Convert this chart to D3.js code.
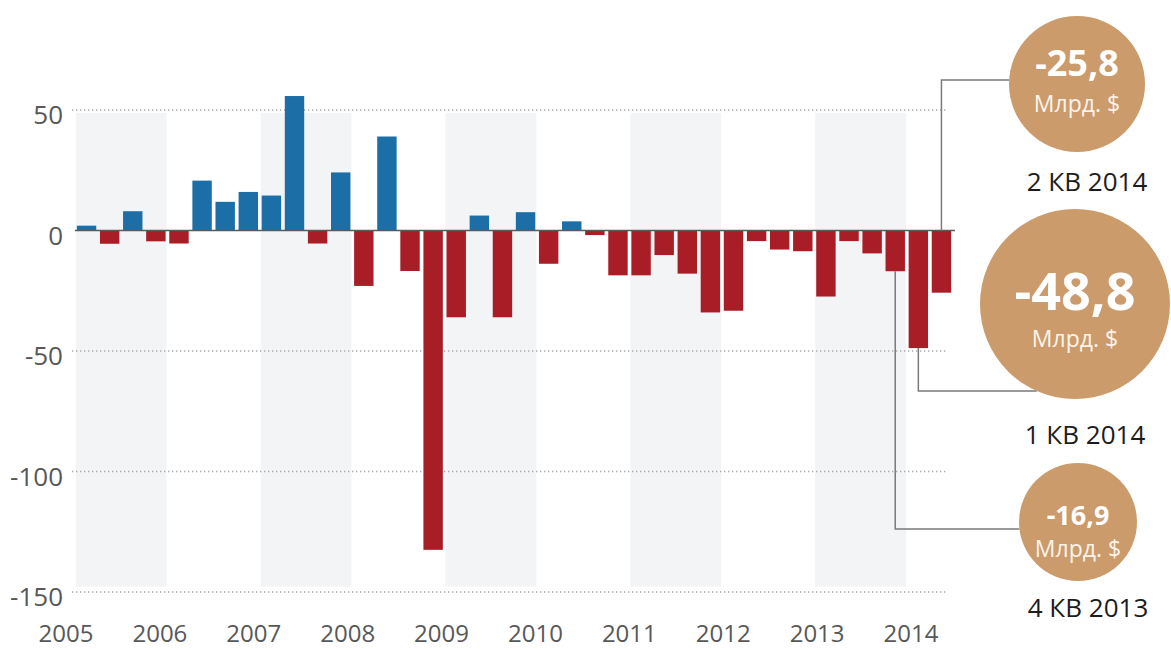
<!DOCTYPE html>
<html>

<head>
  <meta charset="utf-8">
  <title>Сальдо квартал</title>
  <script src="https://cdn.jsdelivr.net/npm/d3@7"></script>
  <style>
    body { margin: 0; background: #fff; }
    text { font-family: "Open Sans", sans-serif; }
  </style>
</head>

<body>
  <script>
    // Size
    const w = 1171;
    const h = 650;

    // Data: quarters 2005 Q1 .. 2014 Q2, billions $
    const years = [2005, 2006, 2007, 2008, 2009, 2010, 2011, 2012, 2013, 2014];
    const quarters = [];
    years.forEach(function (y) {
      [1, 2, 3, 4].forEach(function (q) {
        if (y < 2014 || q <= 2) quarters.push(y + "Q" + q);
      });
    });
    const values = [
      2, -5.5, 8, -4.5,
      -5.4, 20.7, 11.9, 16,
      14.5, 55.8, -5.4, 24.1,
      -23, 39, -16.8, -132.5,
      -36, 6.2, -36, 7.6,
      -13.8, 3.8, -1.9, -18.6,
      -18.6, -10.2, -17.9, -34,
      -33.3, -4.4, -7.9, -8.6,
      -27.4, -4.4, -9.5, -16.9,
      -48.8, -25.8
    ];
    const yTicks = [50, 0, -50, -100, -150];
    const shadedYears = [2005, 2007, 2009, 2011, 2013];

    // Callouts
    const calloutQuarters = ["2014Q2", "2014Q1", "2013Q4"];
    const calloutValues = ["-25,8", "-48,8", "-16,9"];
    const calloutLabels = ["2 КВ 2014", "1 КВ 2014", "4 КВ 2013"];

    const svg = d3.select("body").append("svg")
      .attr("width", w)
      .attr("height", h);

    const x = d3.scaleBand()
      .domain(quarters)
      .range([75, 953])
      .paddingInner(0.16)
      .paddingOuter(0.08);

    const y = d3.scaleLinear()
      .domain([-150, 50])
      .range([592, 110]);

    const yearX = d3.scalePoint()
      .domain(years)
      .range([66, 911]);

    // year shading
    svg.selectAll("rect.band")
      .data(shadedYears)
      .enter()
      .append("rect")
      .attr("class", "band")
      .attr("x", d => x(d + "Q1") - 1)
      .attr("width", d => x(d + "Q4") + x.bandwidth() + 1 - (x(d + "Q1") - 1))
      .attr("y", y(48.8))
      .attr("height", y(-147.8) - y(48.8))
      .attr("fill", "#f3f4f6");

    // dotted grid
    svg.selectAll("line.grid")
      .data(yTicks.filter(d => d !== 0))
      .enter()
      .append("line")
      .attr("x1", 72)
      .attr("x2", 948)
      .attr("y1", d => y(d))
      .attr("y2", d => y(d))
      .attr("stroke", "#a8a8a8")
      .attr("stroke-width", 1.3)
      .attr("stroke-dasharray", "1.3,2.7");

    // y labels
    svg.selectAll("text.ytick")
      .data(yTicks)
      .enter()
      .append("text")
      .attr("x", 63)
      .attr("y", d => y(d) + 4)
      .attr("text-anchor", "end")
      .attr("dominant-baseline", "central")
      .attr("font-size", 26)
      .attr("fill", "#585858")
      .text(d => d);

    // year labels
    svg.selectAll("text.year")
      .data(years)
      .enter()
      .append("text")
      .attr("x", d => yearX(d))
      .attr("y", 632)
      .attr("text-anchor", "middle")
      .attr("dominant-baseline", "central")
      .attr("font-size", 24)
      .attr("fill", "#585858")
      .text(d => d);

    // bars
    svg.selectAll("rect.bar")
      .data(values)
      .enter()
      .append("rect")
      .attr("x", (d, i) => x(quarters[i]))
      .attr("y", d => y(Math.max(0, d)))
      .attr("width", x.bandwidth())
      .attr("height", d => Math.abs(y(d) - y(0)))
      .attr("fill", d => d >= 0 ? "#1b6fa6" : "#a91d27");

    // zero line
    svg.append("line")
      .attr("x1", 75)
      .attr("x2", 955)
      .attr("y1", y(0))
      .attr("y2", y(0))
      .attr("stroke", "#5a5a5a")
      .attr("stroke-width", 1.5);

    // callout layout
    const circles = [
      { cx: 1077, cy: 84, r: 68, big: 36, small: 23, vy: 62, uy: 103, ly: 181, lineY: 80 },
      { cx: 1075, cy: 304, r: 95, big: 52, small: 23, vy: 289, uy: 338, ly: 434, lineY: 391 },
      { cx: 1078, cy: 522, r: 59, big: 27, small: 23, vy: 514, uy: 548, ly: 607, lineY: 529 }
    ];

    calloutQuarters.forEach(function (q, i) {
      const c = circles[i];
      const v = values[quarters.indexOf(q)];
      const bx = x(q) + x.bandwidth() / 2;
      const startY = i === 0 ? y(0) : y(v);
      const edgeX = c.cx - Math.sqrt(Math.max(0, c.r * c.r - (c.lineY - c.cy) * (c.lineY - c.cy)));

      svg.append("path")
        .attr("d", "M" + bx + "," + startY + "V" + c.lineY + "H" + edgeX)
        .attr("fill", "none")
        .attr("stroke", "#7a7a7a")
        .attr("stroke-width", 1.5);

      svg.append("circle")
        .attr("cx", c.cx)
        .attr("cy", c.cy)
        .attr("r", c.r)
        .attr("fill", "#cb9b6c");

      svg.append("text")
        .attr("x", c.cx)
        .attr("y", c.vy)
        .attr("text-anchor", "middle")
        .attr("dominant-baseline", "central")
        .attr("font-size", c.big)
        .attr("font-weight", "bold")
        .attr("fill", "#fff")
        .text(calloutValues[i]);

      svg.append("text")
        .attr("x", c.cx)
        .attr("y", c.uy)
        .attr("text-anchor", "middle")
        .attr("dominant-baseline", "central")
        .attr("font-size", c.small)
        .attr("fill", "#fbf3ea")
        .text("Млрд. $");

      svg.append("text")
        .attr("x", c.cx + 10)
        .attr("y", c.ly)
        .attr("text-anchor", "middle")
        .attr("dominant-baseline", "central")
        .attr("font-size", 26)
        .attr("fill", "#1c1c1c")
        .text(calloutLabels[i]);
    });
  </script>
</body>

</html>
